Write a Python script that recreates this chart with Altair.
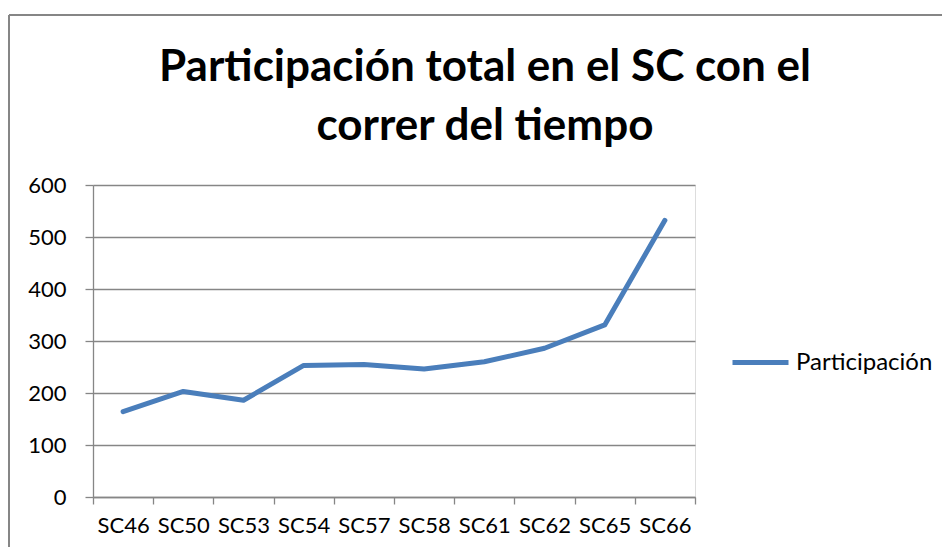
import altair as alt
import pandas as pd

categories = ["SC46", "SC50", "SC53", "SC54", "SC57", "SC58", "SC61", "SC62", "SC65", "SC66"]
values = [164, 203, 186, 253, 255, 246, 260, 286, 331, 532]
series_name = "Participación"
title_lines = ["Participación total en el SC con el", "correr del tiempo"]
y_ticks = [0, 100, 200, 300, 400, 500, 600]

FONT = "Lato"
GRAY = "#868686"
BLUE = "#4A7EBB"

df = pd.DataFrame({"cat": categories, "val": values, "serie": [series_name] * len(categories)})

W, H = 602, 312

x_enc = alt.X(
    "cat:N",
    sort=categories,
    bandPosition=0.5,
    scale=alt.Scale(type="band", paddingInner=0, paddingOuter=0),
    axis=alt.Axis(
        title=None, labelAngle=0, tickBand="extent", grid=False,
        domainColor=GRAY, tickColor=GRAY, domainWidth=1.3, tickWidth=1.3,
        tickSize=7, labelPadding=11, labelFont=FONT, labelFontSize=22,
        labelColor="#000000",
    ),
)
y_enc = alt.Y(
    "val:Q",
    scale=alt.Scale(domain=[0, 600], nice=False),
    axis=alt.Axis(
        title=None, values=y_ticks, grid=True, gridColor=GRAY, gridWidth=1.3,
        domainColor=GRAY, tickColor=GRAY, domainWidth=1.3, tickWidth=1.3,
        tickSize=8, labelPadding=19, labelFont=FONT, labelFontSize=22,
        labelColor="#000000",
    ),
)

line = alt.Chart(df).mark_line(
    strokeWidth=5, strokeCap="round", strokeJoin="round"
).encode(
    x=x_enc,
    y=y_enc,
    color=alt.Color(
        "serie:N",
        scale=alt.Scale(range=[BLUE]),
        legend=alt.Legend(
            title=None, orient="none", legendX=637, legendY=147,
            symbolType="stroke", symbolSize=3136, symbolStrokeWidth=5,
            labelFont=FONT, labelFontSize=24, labelColor="#000000",
            labelOffset=5, padding=0,
        ),
    ),
)

title_df = pd.DataFrame({"t": title_lines, "y": [-104, -45]})
title = alt.Chart(title_df).mark_text(
    font=FONT, fontSize=44, fontWeight="bold", color="#000000",
    align="center", baseline="alphabetic",
).encode(
    text="t:N",
    x=alt.value(392),
    y=alt.Y("y:Q", scale=None),
)

border_top = alt.Chart(pd.DataFrame({"k": [0]})).mark_rule(color=GRAY, strokeWidth=2).encode(
    x=alt.value(-84), x2=alt.value(860), y=alt.value(-170)
)
border_left = alt.Chart(pd.DataFrame({"k": [0]})).mark_rule(color=GRAY, strokeWidth=2).encode(
    x=alt.value(-84), y=alt.value(-170), y2=alt.value(380)
)

chart = alt.layer(border_top, border_left, title, line).properties(
    width=W, height=H,
    autosize=alt.AutoSizeParams(type="none"),
    padding={"left": 85, "top": 177, "right": 247, "bottom": 50},
).configure_view(stroke=None).configure(background="white")

chart.save("out.html", embed_options={"renderer": "svg", "actions": False})
